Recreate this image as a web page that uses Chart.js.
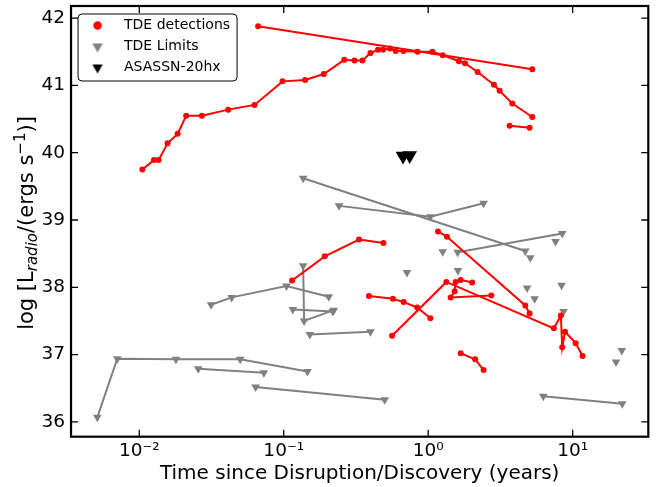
<!DOCTYPE html>
<html>
<head>
<meta charset="utf-8">
<script src="https://cdn.jsdelivr.net/npm/chart.js@4.4.0/dist/chart.umd.min.js"></script>
<style>
    html, body { margin: 0; padding: 0; background: #fff; }
    #wrap { width: 657px; height: 487px; }
</style>
</head>
<body>
<div id="wrap"><canvas id="radioChart" width="657" height="487"></canvas></div>
<script>
// 데이터: [time since disruption (years), log L_radio]

// TDE detections (red)
const det1 = [
    [0.0105, 39.75], [0.01264, 39.89], [0.01361, 39.89], [0.0157, 40.14], [0.01843, 40.28],
    [0.02113, 40.55], [0.02715, 40.55], [0.04125, 40.64], [0.0628, 40.71], [0.0981, 41.06],
    [0.1406, 41.08], [0.1894, 41.17], [0.2624, 41.38], [0.3088, 41.37], [0.3508, 41.37],
    [0.3983, 41.48], [0.4496, 41.53], [0.4868, 41.53], [0.5443, 41.55], [0.5959, 41.51],
    [0.674, 41.51], [0.842, 41.50], [1.069, 41.50], [1.26, 41.45], [1.633, 41.36],
    [1.797, 41.33], [2.199, 41.20], [2.851, 41.01], [3.123, 40.92], [3.822, 40.73], [5.256, 40.53]
];
const det2 = [[0.0665, 41.88], [5.256, 41.24]];
const det3 = [[3.661, 40.40], [5.035, 40.37]];
const det4 = [[0.1143, 38.10], [0.1924, 38.46], [0.3322, 38.71], [0.4898, 38.66]];
const det5 = [[0.3889, 37.87], [0.570, 37.83], [0.6769, 37.78], [0.8395, 37.70], [1.036, 37.54]];
const det6 = [[0.562, 37.28], [1.336, 38.08], [7.413, 37.39], [8.287, 37.58], [8.472, 37.11],
    [8.859, 37.34], [10.50, 37.17], [11.71, 36.98]];
const det7 = [[1.678, 37.02], [2.113, 36.93], [2.42, 36.77]];
const det8 = [[2.735, 37.88], [1.431, 37.85], [1.525, 37.94], [1.549, 38.08], [1.678, 38.11], [2.015, 38.07]];
const det9 = [[1.169, 38.83], [1.349, 38.75], [4.70, 37.73], [5.035, 37.61]];

// TDE limits (gray, connected)
const lim1 = [[0.005123, 36.07], [0.007045, 36.94], [0.01794, 36.93], [0.04995, 36.93], [0.1461, 36.75]];
const lim2 = [[0.02559, 36.79], [0.07285, 36.73]];
const lim3 = [[0.06383, 36.52], [0.5002, 36.33]];
const lim4 = [[6.262, 36.38], [22.07, 36.27]];
const lim5 = [[0.03141, 37.74], [0.04362, 37.85], [0.1045, 38.02], [0.205, 37.86]];
const lim6 = [[0.1362, 38.32], [0.1384, 37.50], [0.2221, 37.66]];
const lim7 = [[0.1156, 37.67], [0.2186, 37.64]];
const lim8 = [[0.1515, 37.30], [0.3983, 37.34]];
const lim9 = [[0.1362, 39.62], [4.70, 38.54]];
const lim10 = [[0.2416, 39.21], [1.036, 39.05], [2.42, 39.25]];
const lim11 = [[1.60, 38.52], [8.472, 38.80]];
// TDE limits (gray, single)
const limSingle = [[1.26, 38.53], [1.607, 38.25], [0.7133, 38.22], [5.09, 38.44], [7.615, 38.68],
    [4.837, 37.99], [5.452, 37.83], [8.38, 38.03], [8.65, 37.64], [21.89, 37.06], [19.96, 36.89]];

// ASASSN-20hx (black)
const asassn = [[0.6693, 39.95], [0.7447, 39.96]];

// 축 범위와 눈금
const xMin = 0.00337, xMax = 33.4;
const yMin = 35.78, yMax = 42.18;
const xMajor = [0.01, 0.1, 1, 10];
const xMajorLabels = ['10\u207B\u00B2', '10\u207B\u00B9', '10\u2070', '10\u00B9'];
const yMajor = [36, 37, 38, 39, 40, 41, 42];
const legendNames = ['TDE detections', 'TDE Limits', 'ASASSN-20hx'];
const xTitle = 'Time since Disruption/Discovery (years)';

const RED = '#ff0000';
const GRAY = '#808080';
const BLACK = '#000000';

Chart.defaults.font.family = '"DejaVu Sans", sans-serif';
Chart.defaults.color = '#000';

// log 축 눈금값 (1..9 x 10^n)
const xTickValues = [];
for (let e = -3; e <= 1; e++) {
    for (let m = 1; m <= 9; m++) {
        const v = m * Math.pow(10, e);
        if (v >= xMin && v <= xMax) xTickValues.push({ value: v, major: m === 1 });
    }
}
// y 축 눈금값 (0.2 간격)
const yTickValues = [];
for (let k = Math.ceil(yMin * 5); k <= Math.floor(yMax * 5); k++) {
    const v = Math.round(k * 2) / 10;
    yTickValues.push({ value: v, major: yMajor.includes(v) });
}

const toPts = arr => arr.map(p => ({ x: p[0], y: p[1] }));

/**
 * 범례 마커 아이콘
 * @param {string} style - pointStyle
 * @param {string} color - 색상
 */
function makeIcon(style, color, radius, rotation) {
    const c = document.createElement('canvas');
    c.width = c.height = Math.ceil(radius * 2 + 4);
    const g = c.getContext('2d');
    g.fillStyle = color;
    g.strokeStyle = color;
    Chart.helpers.drawPoint(g, { pointStyle: style, radius: radius, rotation: rotation, borderWidth: 0 },
        c.width / 2, c.height / 2);
    return c;
}
const legendIcons = [
    makeIcon('circle', RED, 4.2, 0),
    makeIcon('triangle', GRAY, 6, 180),
    makeIcon('triangle', BLACK, 6, 180)
];

function lineSet(arr, color, style, radius) {
    return {
        data: toPts(arr),
        showLine: true,
        borderColor: color,
        backgroundColor: color,
        borderWidth: 2,
        pointStyle: style,
        rotation: style === 'triangle' ? 180 : 0,
        pointRadius: radius,
        pointBorderWidth: 0
    };
}

const datasets = [
    ...[det1, det2, det3, det4, det5, det6, det7, det8, det9].map(d => lineSet(d, RED, 'circle', 3)),
    ...[lim1, lim2, lim3, lim4, lim5, lim6, lim7, lim8, lim9, lim10, lim11].map(d => lineSet(d, GRAY, 'triangle', 5)),
    Object.assign(lineSet(limSingle, GRAY, 'triangle', 5), { showLine: false }),
    Object.assign(lineSet(asassn, BLACK, 'triangle', 8.5), { showLine: false })
];

// 프레임 + 안쪽 눈금 (4면)
const frameTicks = {
    id: 'frameTicks',
    afterDatasetsDraw(chart) {
        const { ctx, chartArea: a, scales: { x, y } } = chart;
        ctx.save();
        ctx.strokeStyle = '#000';
        ctx.lineWidth = 1.3;
        ctx.beginPath();
        x.ticks.forEach(t => {
            const px = x.getPixelForValue(t.value);
            const len = t.major ? 7 : 4;
            ctx.moveTo(px, a.bottom); ctx.lineTo(px, a.bottom - len);
            ctx.moveTo(px, a.top); ctx.lineTo(px, a.top + len);
        });
        y.ticks.forEach(t => {
            const py = y.getPixelForValue(t.value);
            const len = t.major ? 7 : 4;
            ctx.moveTo(a.left, py); ctx.lineTo(a.left + len, py);
            ctx.moveTo(a.right, py); ctx.lineTo(a.right - len, py);
        });
        ctx.stroke();
        ctx.lineWidth = 2.2;
        ctx.strokeRect(a.left, a.top, a.right - a.left, a.bottom - a.top);
        ctx.restore();
    }
};

// 범례 테두리
const legendBox = {
    id: 'legendBox',
    beforeDraw(chart) {
        const hb = chart.legend.legendHitBoxes;
        if (!hb || !hb.length) return;
        const left = hb[0].left;
        const top = hb[0].top - 4.5;
        const right = Math.max(...hb.map(h => h.left + h.width)) + 7;
        const last = hb[hb.length - 1];
        const bottom = last.top + last.height + 6.5;
        const ctx = chart.ctx;
        ctx.save();
        ctx.beginPath();
        ctx.roundRect(left, top, right - left, bottom - top, 4);
        ctx.fillStyle = 'rgba(255,255,255,0.8)';
        ctx.fill();
        ctx.strokeStyle = '#000';
        ctx.lineWidth = 1;
        ctx.stroke();
        ctx.restore();
    }
};

// y 축 제목 (아래첨자/위첨자)
const yTitle = {
    id: 'yTitle',
    afterDraw(chart) {
        const ctx = chart.ctx;
        const parts = [
            { t: 'log [L', f: '21px "DejaVu Sans"', dy: 0 },
            { t: 'radio', f: 'italic 15px "DejaVu Sans"', dy: 4 },
            { t: '/(ergs s', f: '21px "DejaVu Sans"', dy: 0 },
            { t: '\u22121', f: '15px "DejaVu Sans"', dy: -8 },
            { t: ')]', f: '21px "DejaVu Sans"', dy: 0 }
        ];
        ctx.save();
        let total = 0;
        parts.forEach(p => { ctx.font = p.f; p.w = ctx.measureText(p.t).width; total += p.w; });
        ctx.translate(33, 223);
        ctx.rotate(-Math.PI / 2);
        ctx.fillStyle = '#000';
        ctx.textBaseline = 'alphabetic';
        ctx.textAlign = 'left';
        let cx = -total / 2;
        parts.forEach(p => { ctx.font = p.f; ctx.fillText(p.t, cx, p.dy); cx += p.w; });
        ctx.restore();
    }
};

// 라벨 때문에 생기는 축 여백 제거
const noEdgePadding = axis => {
    axis.paddingTop = 0;
    axis.paddingBottom = 0;
    axis.paddingLeft = 0;
    axis.paddingRight = 0;
};

const chart = new Chart(document.getElementById('radioChart').getContext('2d'), {
    type: 'scatter',
    data: { datasets: datasets },
    options: {
        responsive: false,
        animation: false,
        events: [],
        layout: { autoPadding: false, padding: { left: 35.5, right: 8.7, top: 6, bottom: 4.1 } },
        plugins: {
            tooltip: { enabled: false },
            legend: {
                position: 'chartArea',
                align: 'start',
                title: { display: true, text: '', padding: 0, font: { size: 11.5, lineHeight: 1 } },
                labels: {
                    usePointStyle: true,
                    pointStyleWidth: 39,
                    padding: 7,
                    font: { size: 14 },
                    color: '#000',
                    generateLabels: () => legendNames.map((name, i) => ({
                        text: name,
                        pointStyle: legendIcons[i],
                        rotation: 0,
                        fillStyle: BLACK,
                        strokeStyle: BLACK,
                        lineWidth: 0,
                        hidden: false,
                        fontColor: '#000'
                    }))
                }
            }
        },
        scales: {
            x: {
                type: 'logarithmic',
                min: xMin,
                max: xMax,
                afterBuildTicks: axis => { axis.ticks = xTickValues.map(t => ({ value: t.value, major: t.major })); },
                afterFit: noEdgePadding,
                ticks: {
                    autoSkip: false,
                    maxRotation: 0,
                    minRotation: 0,
                    padding: 3,
                    font: { size: 18.5, lineHeight: 1.2 },
                    color: '#000',
                    callback: (v, i, ticks) => ticks[i].major ? xMajorLabels[xMajor.findIndex(m => Math.abs(m - v) < m * 1e-6)] : null
                },
                grid: { display: false, drawTicks: false, tickLength: 0 },
                border: { display: false },
                title: { display: true, text: xTitle, font: { size: 20, lineHeight: 0.9 }, color: '#000', padding: { top: 0, bottom: 0 } }
            },
            y: {
                type: 'linear',
                min: yMin,
                max: yMax,
                afterBuildTicks: axis => { axis.ticks = yTickValues.map(t => ({ value: t.value, major: t.major })); },
                afterFit: noEdgePadding,
                ticks: {
                    autoSkip: false,
                    padding: 6,
                    font: { size: 18.5 },
                    color: '#000',
                    callback: (v, i, ticks) => ticks[i].major ? String(v) : null
                },
                grid: { display: false, drawTicks: false, tickLength: 0 },
                border: { display: false }
            }
        }
    },
    plugins: [legendBox, frameTicks, yTitle]
});
</script>
</body>
</html>
